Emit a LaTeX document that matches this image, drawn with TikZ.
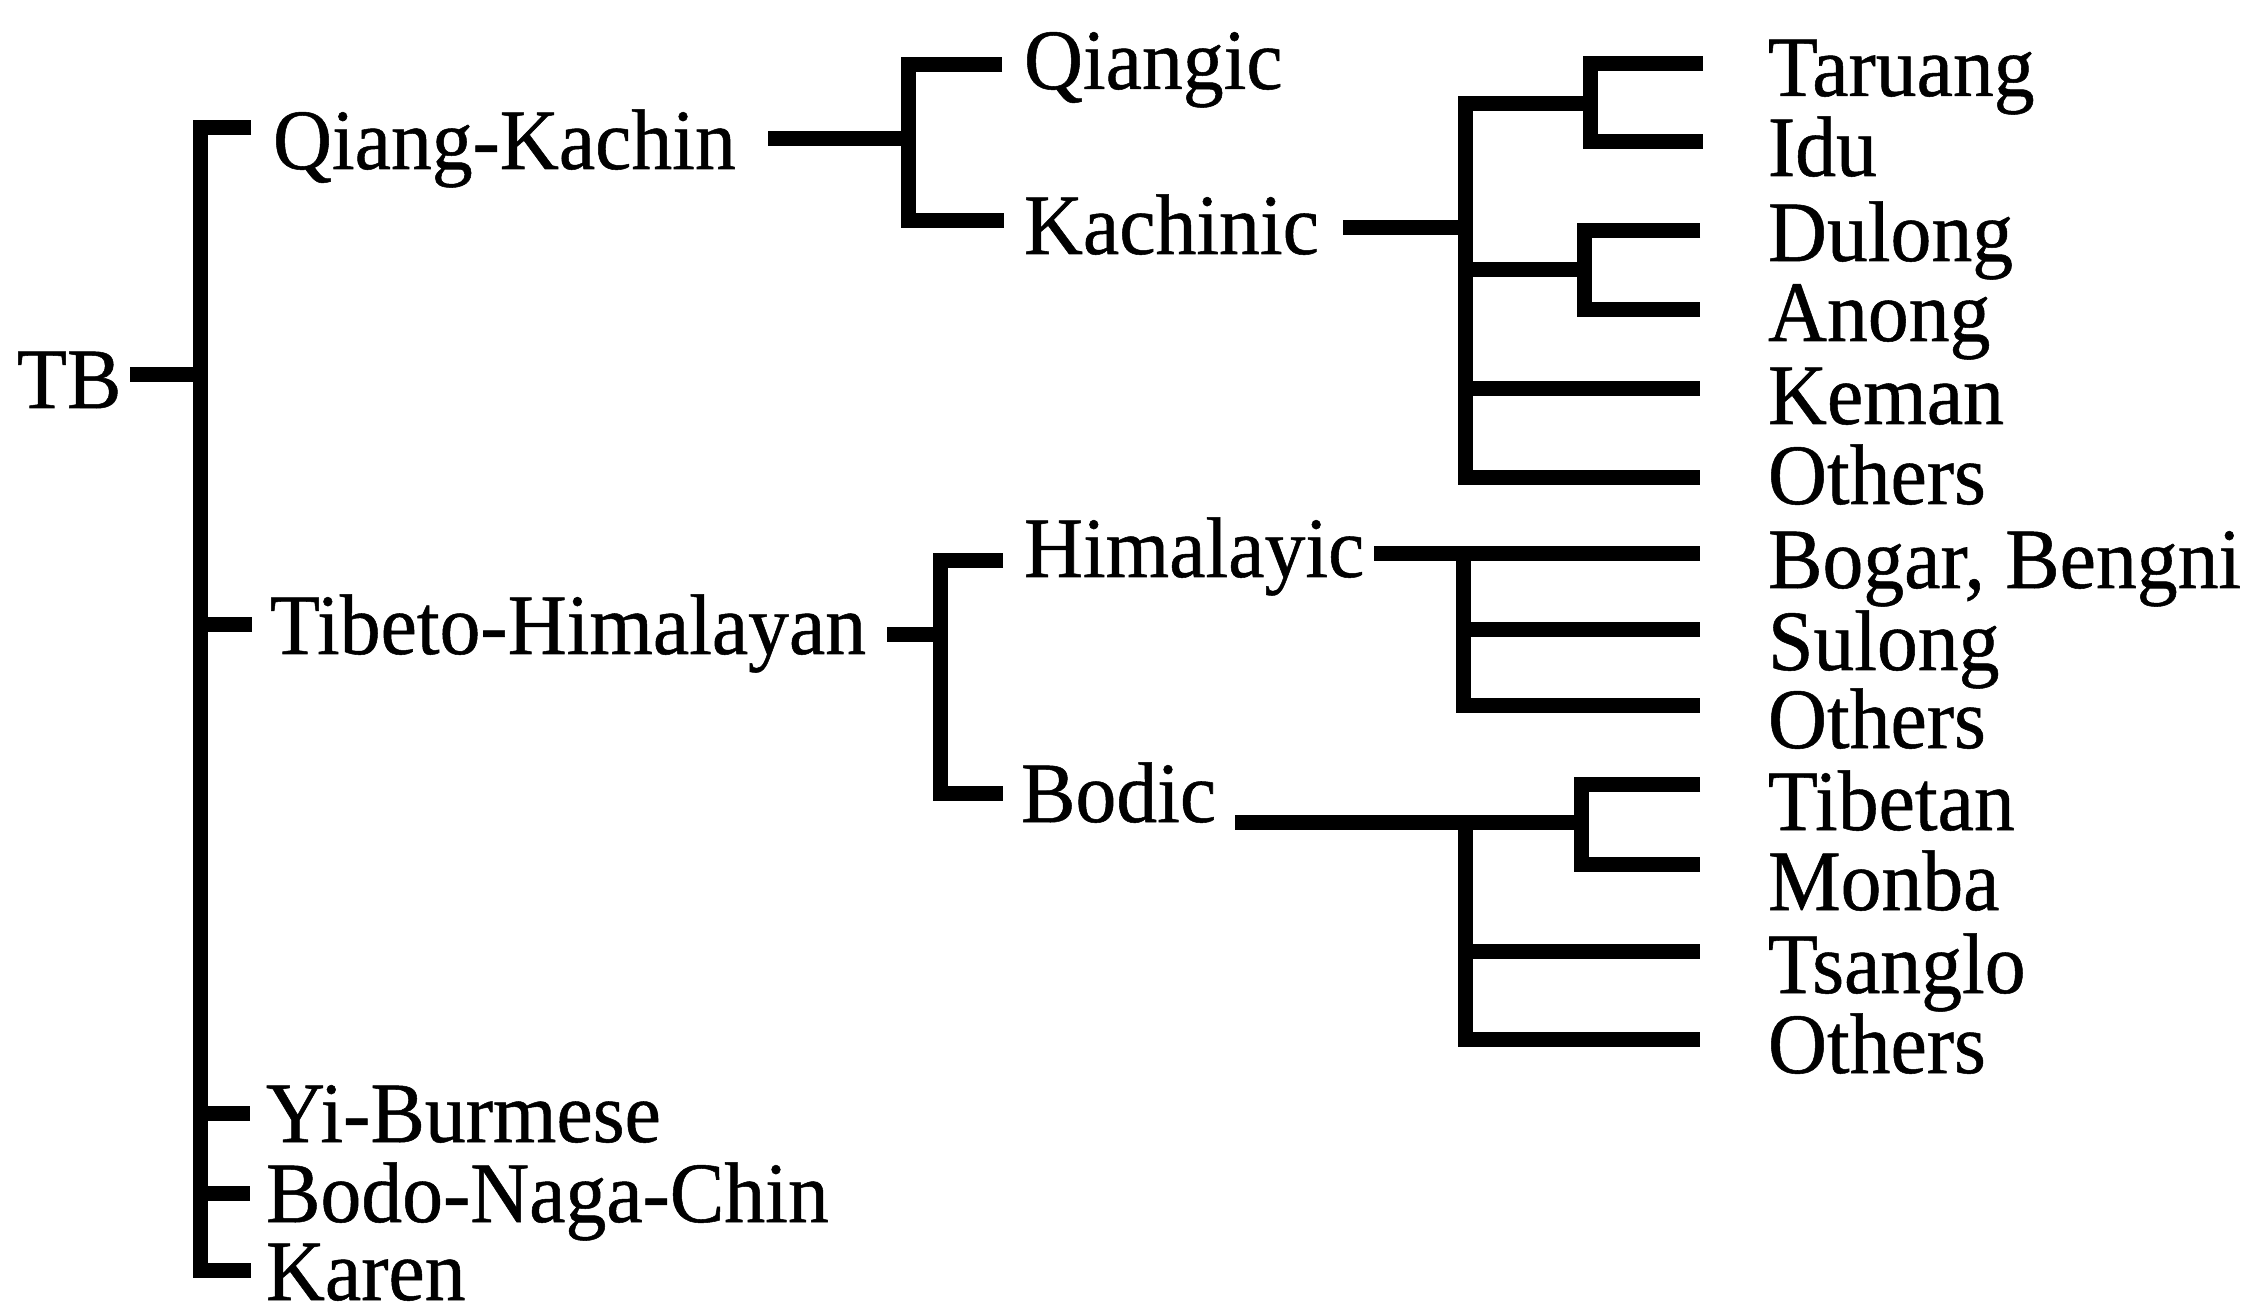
\documentclass[tikz,border=0pt]{standalone}
\usepackage{fontspec}
\setmainfont{Liberation Serif}[FakeStretch=0.95,FakeBold=0.6]
\begin{document}
\begin{tikzpicture}[x=0.5pt,y=-0.5pt,line width=7.5pt,line cap=butt,line join=miter,
  lbl/.style={anchor=base west,inner sep=0pt,outer sep=0pt,font=\fontsize{43}{43}\selectfont}]
\useasboundingbox (0,0) rectangle (2254,1309);
% ---- labels ----
\node[lbl] (tb)  at (17,408)  {TB};
\node[lbl] (qk)  at (273,169) {Qiang-Kachin};
\node[lbl] (th)  at (270,654) {Tibeto-Himalayan};
\node[lbl] (yb)  at (266,1142) {Yi-Burmese};
\node[lbl] (bnc) at (266,1222) {Bodo-Naga-Chin};
\node[lbl] (kar) at (266,1300) {Karen};
\node[lbl] (qia) at (1024,89)  {Qiangic};
\node[lbl] (kac) at (1024,254) {Kachinic};
\node[lbl] (him) at (1024,577) {Himalayic};
\node[lbl] (bod) at (1021,822) {Bodic};
\node[lbl] (tar) at (1768,96)  {Taruang};
\node[lbl] (idu) at (1768,176) {Idu};
\node[lbl] (dul) at (1768,261) {Dulong};
\node[lbl] (ano) at (1768,341) {Anong};
\node[lbl] (kem) at (1768,424) {Keman};
\node[lbl] (ot1) at (1768,504) {Others};
\node[lbl] (bog) at (1768,588) {Bogar, Bengni};
\node[lbl] (sul) at (1768,670) {Sulong};
\node[lbl] (ot2) at (1768,748) {Others};
\node[lbl] (tib) at (1768,830) {Tibetan};
\node[lbl] (mon) at (1768,910) {Monba};
\node[lbl] (tsa) at (1768,993) {Tsanglo};
\node[lbl] (ot3) at (1768,1073) {Others};
% ---- coordinates ----
\coordinate (tbE) at (130,375);  \coordinate (m0) at (200,375);
\coordinate (mT) at (200,128);   \coordinate (mB) at (200,1270);
\coordinate (qkT) at (251,128);  \coordinate (karT) at (251,1270);
\coordinate (mTH) at (200,625);  \coordinate (thT) at (252,625);
\coordinate (mYB) at (200,1113); \coordinate (ybT) at (250,1113);
\coordinate (mBN) at (200,1193); \coordinate (bnT) at (250,1193);
% Qiang-Kachin
\coordinate (qkE) at (768,139);  \coordinate (qkJ) at (908,139);
\coordinate (qaJ) at (908,65);   \coordinate (qaT) at (1002,65);
\coordinate (kaJ) at (908,221);  \coordinate (kaT) at (1004,221);
% Kachinic
\coordinate (kcE) at (1343,228); \coordinate (kcJ) at (1465,228);
\coordinate (kcTop) at (1465,104); \coordinate (tiJ) at (1590,104);
\coordinate (taJ) at (1590,64);  \coordinate (taT) at (1703,64);
\coordinate (idJ) at (1590,142); \coordinate (idT) at (1703,142);
\coordinate (daS) at (1465,270); \coordinate (daJ) at (1584,270);
\coordinate (duJ) at (1584,231); \coordinate (duT) at (1700,231);
\coordinate (anJ) at (1584,310); \coordinate (anT) at (1700,310);
\coordinate (keS) at (1465,389); \coordinate (keT) at (1700,389);
\coordinate (o1S) at (1465,478); \coordinate (o1T) at (1700,478);
% Tibeto-Himalayan
\coordinate (thE) at (887,635);  \coordinate (thJ) at (940,635);
\coordinate (hiJ) at (940,561);  \coordinate (hiT) at (1003,561);
\coordinate (boJ) at (940,794);  \coordinate (boT) at (1003,794);
% Himalayic
\coordinate (hmE) at (1374,554); \coordinate (hmJ) at (1463,554); \coordinate (bgT) at (1700,554);
\coordinate (suS) at (1463,630); \coordinate (suT) at (1700,630);
\coordinate (o2S) at (1463,706); \coordinate (o2T) at (1700,706);
% Bodic
\coordinate (bdE) at (1235,822); \coordinate (bdM) at (1465,822); \coordinate (bdJ) at (1581,822);
\coordinate (tbJ) at (1581,785); \coordinate (tbT) at (1700,785);
\coordinate (moJ) at (1581,864); \coordinate (moT) at (1700,864);
\coordinate (tsS) at (1465,951); \coordinate (tsT) at (1700,951);
\coordinate (o3S) at (1465,1039); \coordinate (o3T) at (1700,1039);
% ---- connectors ----
\draw (tbE) -- (m0);
\draw (qkT) -- (mT) -- (mB) -- (karT);
\draw (mTH) -- (thT);
\draw (mYB) -- (ybT);
\draw (mBN) -- (bnT);
\draw (qkE) -- (qkJ);
\draw (qaT) -- (qaJ) -- (kaJ) -- (kaT);
\draw (kcE) -- (kcJ);
\draw (tiJ) -- (kcTop) -- (o1S) -- (o1T);
\draw (taT) -- (taJ) -- (idJ) -- (idT);
\draw (daS) -- (daJ);
\draw (duT) -- (duJ) -- (anJ) -- (anT);
\draw (keS) -- (keT);
\draw (thE) -- (thJ);
\draw (hiT) -- (hiJ) -- (boJ) -- (boT);
\draw (hmE) -- (bgT);
\draw ([yshift=-3.75pt]hmJ) -- (o2S) -- (o2T);
\draw (suS) -- (suT);
\draw (bdE) -- (bdJ);
\draw (tbT) -- (tbJ) -- (moJ) -- (moT);
\draw ([yshift=-3.75pt]bdM) -- (o3S) -- (o3T);
\draw (tsS) -- (tsT);
\end{tikzpicture}
\end{document}
